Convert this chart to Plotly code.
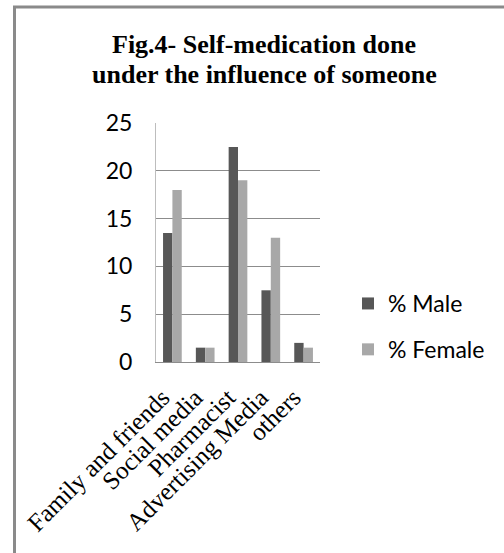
import plotly.graph_objects as go

# Survey categories and percentages by sex
categories = ["Family and friends", "Social media", "Pharmacist", "Advertising Media", "others"]
male_pct = [13.5, 1.5, 22.5, 7.5, 2]
female_pct = [18, 1.5, 19, 13, 1.5]
y_ticks = [0, 5, 10, 15, 20, 25]
title_lines = ["Fig.4- Self-medication done", "under the influence of someone"]

W, H = 504, 553
L, R, T, B = 156, 320, 123, 362  # plot area box in pixels
pw, ph = R - L, B - T


def px_x(x):
    return (x - L) / pw


def px_y(y):
    return (B - y) / ph


fig = go.Figure()
fig.add_trace(go.Bar(name="% Male", x=categories, y=male_pct,
                     marker=dict(color="#575757", line=dict(width=0)),
                     legendgroup="m"))
fig.add_trace(go.Bar(name="% Female", x=categories, y=female_pct,
                     marker=dict(color="#a8a8a8", line=dict(width=0)),
                     legendgroup="f"))

fig.update_layout(
    width=W, height=H,
    margin=dict(l=L, r=W - R, t=T, b=H - B),
    paper_bgcolor="white", plot_bgcolor="white",
    barmode="group", bargap=0.43, bargroupgap=0,
    showlegend=True,
    legend=dict(xref="container", yref="container", x=348 / W, y=1 - 282 / H,
                xanchor="left", yanchor="top",
                font=dict(family="Lato", size=23, color="black"),
                tracegroupgap=13, itemwidth=30, bgcolor="rgba(0,0,0,0)"),
    font=dict(family="Lato", color="black"),
)

# Two-line bold serif heading
for line, yc in zip(title_lines, [44, 74]):
    fig.add_annotation(text=f"<b>{line}</b>", xref="paper", yref="paper",
                       x=px_x(264), y=px_y(yc), xanchor="center", yanchor="middle",
                       showarrow=False,
                       font=dict(family="Liberation Serif", size=26, color="black"))

fig.update_yaxes(range=[0, 25], tickvals=y_ticks, showgrid=True, gridcolor="#8c8c8c",
                 gridwidth=1, showline=True, linecolor="#bdbdbd", linewidth=1,
                 zeroline=False, ticks="", ticklabelstandoff=18,
                 tickfont=dict(family="Lato", size=23, color="black"))
fig.update_xaxes(showline=True, linecolor="#8c8c8c", linewidth=1, ticks="",
                 tickangle=-45, ticklabelstandoff=10, ticklabelshift=-10,
                 tickfont=dict(family="Liberation Serif", size=25, color="black"))

# Outer frame: left and top edges
frame = dict(color="#8a8a8a", width=3)
fig.add_shape(type="line", xref="paper", yref="paper",
              x0=px_x(14.5), x1=px_x(14.5), y0=px_y(H + 10), y1=px_y(7), line=frame)
fig.add_shape(type="line", xref="paper", yref="paper",
              x0=px_x(13), x1=px_x(W + 10), y0=px_y(7), y1=px_y(7), line=frame)

fig.write_html("out.html")
